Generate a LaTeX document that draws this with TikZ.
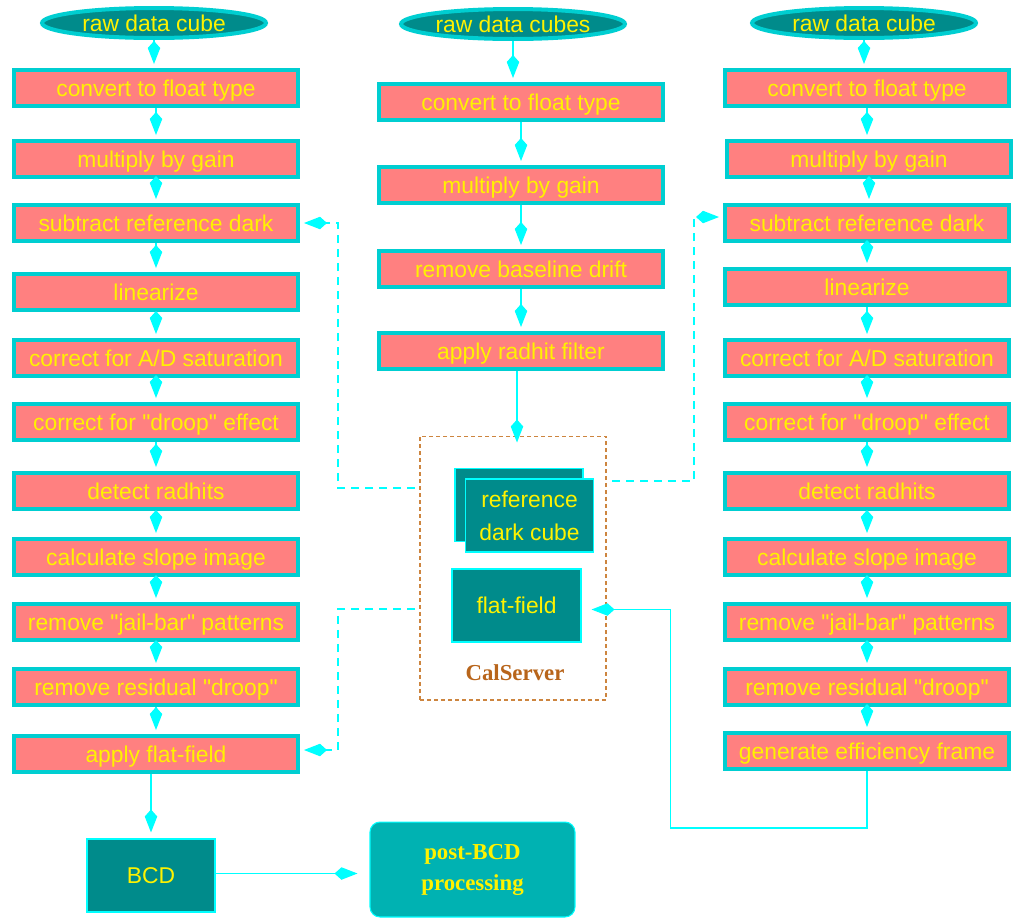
\documentclass[tikz,border=0pt]{standalone}
\usepackage{fontspec}
\setmainfont{Liberation Sans}
\newfontfamily\serifbold{Liberation Serif}
\usepackage{tikz}
\usetikzlibrary{shapes.geometric, arrows.meta, calc}

\definecolor{boxfill}{RGB}{255,128,128}
\definecolor{boxline}{RGB}{0,206,209}
\definecolor{darkteal}{RGB}{0,139,139}
\definecolor{midteal}{RGB}{0,178,178}
\definecolor{flowcol}{RGB}{0,255,255}
\definecolor{calline}{RGB}{205,133,63}
\definecolor{caltext}{RGB}{184,101,27}

\newcommand{\sq}[1]{\textquotedbl#1\textquotedbl}

\tikzset{
  stepbox/.style={draw=boxline, fill=boxfill, line width=0.08cm, minimum width=5.68cm,
    minimum height=0.72cm, inner sep=0pt, text=yellow, font=\fontsize{13}{15}\selectfont,
    text height=10pt, text depth=0pt},
  rawcube/.style={ellipse, draw=boxline, fill=darkteal, line width=0.08cm, minimum width=4.48cm,
    minimum height=0.6cm, inner sep=0pt, text=yellow, font=\fontsize{13}{15}\selectfont,
    text height=9.5pt, text depth=0pt},
  store/.style={draw=flowcol, fill=darkteal, line width=0.6pt, minimum width=2.56cm,
    minimum height=1.46cm, text=yellow, font=\fontsize{13}{18.7}\selectfont, align=center},
  flow/.style={draw=flowcol, line width=0.8pt, -{Kite[length=0.46cm, width=0.25cm, inset=0.14cm]},
    shorten >=0.08cm},
  dflow/.style={flow, dash pattern=on 0.16cm off 0.12cm},
  calbox/.style={draw=calline, line width=0.6pt, dash pattern=on 0.08cm off 0.06cm,
    minimum width=3.72cm, minimum height=5.28cm}
}

\begin{document}
\begin{tikzpicture}[x=0.02cm, y=-0.02cm]
  \useasboundingbox (0,0) rectangle (1017,917);

  % left column
  \node[rawcube] (l0) at (154,23) {raw data cube};
  \node[stepbox] (l1) at (156,88) {convert to float type};
  \node[stepbox] (l2) at (156,159) {multiply by gain};
  \node[stepbox] (l3) at (156,223) {subtract reference dark};
  \node[stepbox] (l4) at (156,292) {linearize};
  \node[stepbox] (l5) at (156,358) {correct for A/D saturation};
  \node[stepbox] (l6) at (156,422) {correct for \sq{droop} effect};
  \node[stepbox] (l7) at (156,491) {detect radhits};
  \node[stepbox] (l8) at (156,557) {calculate slope image};
  \node[stepbox] (l9) at (156,622) {remove \sq{jail-bar} patterns};
  \node[stepbox] (l10) at (156,687) {remove residual \sq{droop}};
  \node[stepbox] (l11) at (156,754) {apply flat-field};

  % middle column
  \node[rawcube] (m0) at (513,24) {raw data cubes};
  \node[stepbox] (m1) at (521,102) {convert to float type};
  \node[stepbox] (m2) at (521,185) {multiply by gain};
  \node[stepbox] (m3) at (521,269) {remove baseline drift};
  \node[stepbox] (m4) at (521,351) {apply radhit filter};

  % right column
  \node[rawcube] (r0) at (864,23) {raw data cube};
  \node[stepbox] (r1) at (867,88) {convert to float type};
  \node[stepbox] (r2) at (869,159) {multiply by gain};
  \node[stepbox] (r3) at (867,223) {subtract reference dark};
  \node[stepbox] (r4) at (867,287) {linearize};
  \node[stepbox] (r5) at (867,358) {correct for A/D saturation};
  \node[stepbox] (r6) at (867,422) {correct for \sq{droop} effect};
  \node[stepbox] (r7) at (867,491) {detect radhits};
  \node[stepbox] (r8) at (867,557) {calculate slope image};
  \node[stepbox] (r9) at (867,622) {remove \sq{jail-bar} patterns};
  \node[stepbox] (r10) at (867,687) {remove residual \sq{droop}};
  \node[stepbox] (r11) at (867,751) {generate efficiency frame};

  % calibration server
  \node[calbox] (cal) at (513,568) {};
  \node[store] (darkback) at (519,505) {};
  \node[store] (dark) at (529.5,515.5) {reference\\dark cube};
  \node[store, minimum width=2.58cm] (ff) at (516.5,605.5) {flat-field};
  \node[text=caltext, font=\serifbold\bfseries\fontsize{13}{15}\selectfont] (calname) at (515,673) {CalServer};

  % products
  \node[store] (bcd) at (151,875.5) {BCD};
  \node[draw=flowcol, fill=midteal, rounded corners=0.2cm, line width=0.6pt, minimum width=4.1cm,
    minimum height=1.9cm, text=yellow, align=center,
    font=\serifbold\bfseries\fontsize{13}{17.6}\selectfont] (post) at (472.5,869.5) {post-BCD\\processing};

  % column flows
  \foreach \a/\b in {l0/l1, l1/l2, l2/l3, l3/l4, l4/l5, l5/l6, l6/l7, l7/l8, l8/l9, l9/l10, l10/l11,
      m0/m1, m1/m2, m2/m3, m3/m4,
      r0/r1, r1/r2, r2/r3, r3/r4, r4/r5, r5/r6, r6/r7, r7/r8, r8/r9, r9/r10, r10/r11}
    \draw[flow] (\a.south) -- (\a.south |- \b.north);

  % calibration links
  \coordinate (dl) at (415,488);
  \coordinate (dr) at (612,481);
  \coordinate (fl) at (415,609);
  \draw[dflow] (dl) -| ($(l3.east)+(38,0)$) -- (l3.east);
  \draw[dflow] (dr) -| ($(r3.west)+(-29,-6)$) -- ($(r3.west)+(0,-6)$);
  \draw[dflow] (fl) -| ($(l11.east)+(38,-4)$) -- ($(l11.east)+(0,-4)$);
  \draw[flow] (m4.south -| 517,0) -- ($(cal.north -| 517,0)+(0,11)$);
  \draw[flow, shorten >=0.2cm] (r11.south) -- ++(0,57) -| ($(ff.east)+(89,4)$) -- ($(ff.east)+(0,4)$);

  % final products
  \draw[flow, shorten >=0.12cm] (bcd.north |- l11.south) -- (bcd.north);
  \draw[flow, shorten >=0.24cm] ($(bcd.east)+(0,-2)$) -- ($(bcd.east -| post.west)+(0,-2)$);
\end{tikzpicture}
\end{document}
